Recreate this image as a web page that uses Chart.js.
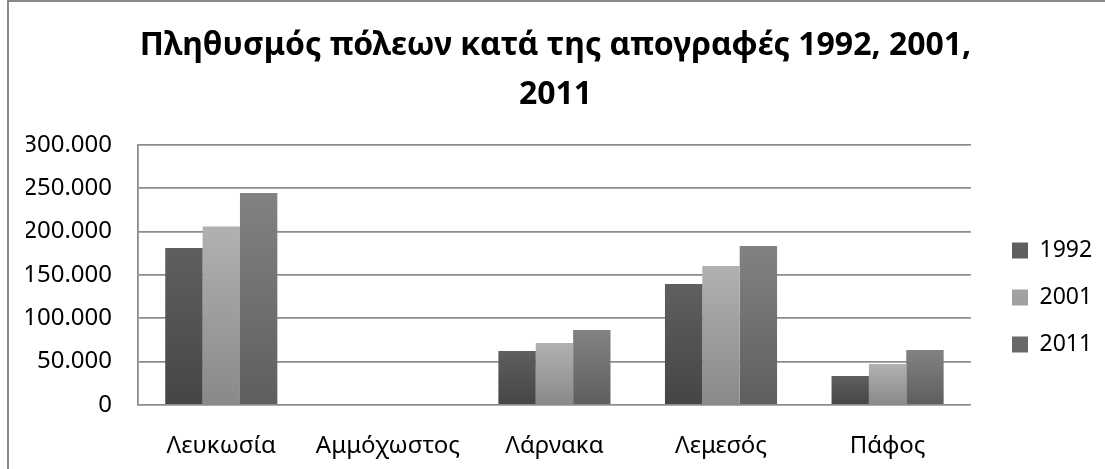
<!DOCTYPE html>
<html>
<head>
<meta charset="utf-8">
<script src="https://cdn.jsdelivr.net/npm/chart.js@4/dist/chart.umd.min.js"></script>
<style>
  body { margin: 0; background: #fff; }
  #wrap { position: relative; width: 1105px; height: 469px; overflow: hidden; }
  #frame { position: absolute; left: 7px; top: 0; width: 1200px; height: 600px;
           border-left: 2px solid #8a8a8a; border-top: 2px solid #8a8a8a; }
  canvas { position: absolute; left: 0; top: 0; }
</style>
</head>
<body>
<div id="wrap">
  <div id="frame"></div>
  <canvas id="grafico" width="1105" height="469"></canvas>
</div>
<script>
// Δεδομένα
const poleis = ['Λευκωσία', 'Αμμόχωστος', 'Λάρνακα', 'Λεμεσός', 'Πάφος'];
const pl1992 = [181000, 0, 62300, 139600, 33500];
const pl2001 = [206000, 0, 71500, 160400, 47300];
const pl2011 = [244600, 0, 86500, 183400, 63500];
const etiketesY = ['0', '50.000', '100.000', '150.000', '200.000', '250.000', '300.000'];
const titlos = ['Πληθυσμός πόλεων κατά της απογραφές 1992, 2001,', '2011'];

const grammatoseira = '"Noto Sans", sans-serif';

// gradient ανά μπάρα (πιο ανοιχτό πάνω, πιο σκούρο κάτω)
const diavathmisi = (panw, katw) => {
    return (ctx) => {
        const chart = ctx.chart;
        const area = chart.chartArea;
        if (!area || !chart.scales.y || ctx.type !== 'data') return katw;
        const y = chart.scales.y.getPixelForValue(ctx.raw || 0);
        if (area.bottom - y < 1) return katw;
        const g = chart.ctx.createLinearGradient(0, y, 0, area.bottom);
        g.addColorStop(0, panw);
        g.addColorStop(1, katw);
        return g;
    };
};

const dataset = (label, data, panw, katw) => ({
    label,
    data,
    backgroundColor: diavathmisi(panw, katw),
    borderWidth: 0,
    barPercentage: 1,
    categoryPercentage: 0.673
});

// μετακινεί το υπόμνημα δεξιά/κάτω όπως στο πρωτότυπο
const thesiLegend = {
    id: 'thesiLegend',
    afterLayout(chart) {
        const L = chart.legend;
        if (!L) return;
        const w = L.right - L.left;
        const h = L.bottom - L.top;
        L.left = 988;
        L.right = L.left + w;
        L.top = 215;
        L.bottom = L.top + h;
    }
};

const grafico = document.getElementById('grafico');
let migrafica = new Chart(grafico, {
    type: 'bar',
    data: {
        labels: poleis,
        datasets: [
            dataset('1992', pl1992, '#5f5f5f', '#454545'),
            dataset('2001', pl2001, '#b1b1b1', '#898989'),
            dataset('2011', pl2011, '#828282', '#5e5e5e')
        ]
    },
    plugins: [thesiLegend],
    options: {
        responsive: false,
        animation: false,
        layout: { padding: { left: 26, right: 20, top: 0, bottom: 0 } },
        plugins: {
            title: {
                display: true,
                text: titlos,
                color: '#000',
                font: { family: grammatoseira, size: 32, weight: 'bold', lineHeight: 1.53 },
                padding: { top: 21, bottom: 26 }
            },
            legend: {
                position: 'right',
                align: 'start',
                labels: {
                    color: '#000',
                    font: { family: grammatoseira, size: 23 },
                    boxWidth: 16,
                    boxHeight: 16,
                    padding: 24
                }
            },
            tooltip: { enabled: false }
        },
        scales: {
            x: {
                grid: { display: false, drawTicks: false },
                border: { display: false },
                afterFit: (s) => { s.height = 64; },
                ticks: {
                    color: '#000',
                    padding: 27,
                    font: { family: grammatoseira, size: 24 }
                }
            },
            y: {
                min: 0,
                max: 300000,
                afterFit: (s) => { s.width = 112; },
                grid: { color: '#8c8c8c', lineWidth: 1.8, drawTicks: false },
                border: { display: true, color: '#8c8c8c', width: 1.8 },
                ticks: {
                    stepSize: 50000,
                    color: '#000',
                    padding: 26,
                    font: { family: grammatoseira, size: 24 },
                    callback: (value) => etiketesY[Math.round(value / 50000)]
                }
            }
        }
    }
});
</script>
</body>
</html>
